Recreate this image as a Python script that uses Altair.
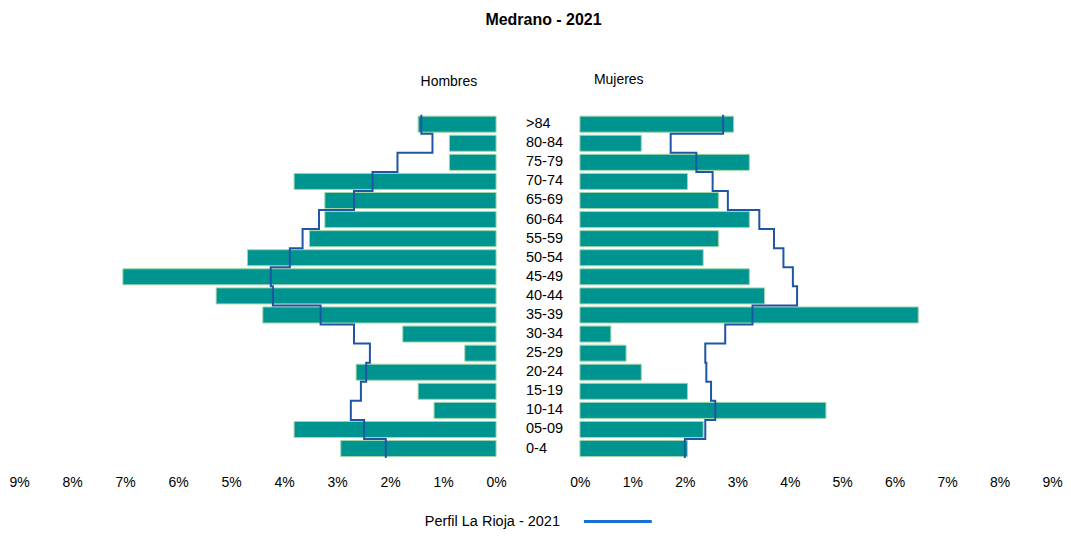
import altair as alt
import pandas as pd

ages = [">84", "80-84", "75-79", "70-74", "65-69", "60-64", "55-59", "50-54", "45-49",
        "40-44", "35-39", "30-34", "25-29", "20-24", "15-19", "10-14", "05-09", "0-4"]
hombres = [1.47, 0.88, 0.88, 3.81, 3.23, 3.23, 3.52, 4.69, 7.04,
           5.28, 4.40, 1.76, 0.59, 2.64, 1.47, 1.17, 3.81, 2.93]
mujeres = [2.93, 1.17, 3.23, 2.05, 2.64, 3.23, 2.64, 2.35, 3.23,
           3.52, 6.45, 0.59, 0.88, 1.17, 2.05, 4.69, 2.35, 2.05]
rioja_h = [1.41, 1.20, 1.86, 2.33, 2.68, 3.34, 3.65, 3.89, 4.25,
           4.21, 3.31, 2.68, 2.38, 2.45, 2.55, 2.74, 2.49, 2.08]
rioja_m = [2.73, 1.73, 2.22, 2.53, 2.82, 3.42, 3.70, 3.88, 4.06,
           4.14, 3.29, 2.77, 2.39, 2.41, 2.50, 2.58, 2.39, 2.00]
tick_values = [0, 1, 2, 3, 4, 5, 6, 7, 8, 9]
title_text = "Medrano - 2021"
legend_text = "Perfil La Rioja - 2021"

n = len(ages)
df = pd.DataFrame({"age": ages, "h": hombres, "m": mujeres})
df["idx"] = [n - 1 - i for i in range(n)]
df["lo"] = df["idx"] - 0.42
df["hi"] = df["idx"] + 0.42
df["z"] = 0.0

rows = []
for i in range(n):
    idx = n - 1 - i
    rows.append({"ord": 2 * i, "y": idx + 0.5, "rh": rioja_h[i], "rm": rioja_m[i]})
    rows.append({"ord": 2 * i + 1, "y": idx - 0.5, "rh": rioja_h[i], "rm": rioja_m[i]})
sdf = pd.DataFrame(rows)

FONT = "Liberation Sans"
TEAL = "#009490"
EDGE = "#9fd6a8"
LINE = "#1f55a5"
LEG = "#1a70d2"

W_L, W_M, W_R, H = 478, 84, 473, 411
yscale = alt.Scale(domain=[-1, 20.5], nice=False, zero=False)


def xaxis():
    return alt.Axis(values=tick_values, labelExpr="datum.value + '%'", ticks=False,
                    domain=False, grid=False, labelFlush=False, labelOverlap=False,
                    labelFontSize=14, labelPadding=8, labelColor="#000", labelFont=FONT,
                    title=None)


def panel(col, rcol, head, head_x, head_y, reverse, width):
    xs = alt.Scale(domain=[0, 9], reverse=reverse, nice=False, zero=False)
    bars = alt.Chart(df).mark_rect(color=TEAL, stroke=EDGE, strokeWidth=1).encode(
        x=alt.X(f"{col}:Q", scale=xs, axis=xaxis()),
        x2="z:Q",
        y=alt.Y("lo:Q", scale=yscale, axis=None),
        y2="hi:Q",
    )
    line = alt.Chart(sdf).mark_line(color=LINE, strokeWidth=2).encode(
        x=alt.X(f"{rcol}:Q", scale=xs),
        y=alt.Y("y:Q", scale=yscale),
        order="ord:Q",
    )
    hd = alt.Chart(pd.DataFrame({"t": [head], "x": [head_x], "y": [head_y]})).mark_text(
        fontSize=14, font=FONT, color="#000").encode(
        x=alt.X("x:Q", scale=xs), y=alt.Y("y:Q", scale=yscale), text="t:N")
    return alt.layer(bars, line, hd).properties(width=width, height=H)


left = panel("h", "rh", "Hombres", 0.89, 19.2, True, W_L)
right = panel("m", "rm", "Mujeres", 0.74, 19.3, False, W_R)

labels = alt.Chart(df).mark_text(align="left", baseline="middle", fontSize=14.5,
                                 font=FONT, color="#000").encode(
    x=alt.value(30), y=alt.Y("idx:Q", scale=yscale, axis=None), text="age:N")
leg_t = alt.Chart(pd.DataFrame({"t": [legend_text]})).mark_text(
    align="right", baseline="middle", fontSize=14.5, font=FONT, color="#000").encode(
    x=alt.value(64), y=alt.value(465), text="t:N")
leg_r = alt.Chart(pd.DataFrame({"t": [legend_text]})).mark_rule(
    color=LEG, strokeWidth=3).encode(
    x=alt.value(88), x2=alt.value(156), y=alt.value(465))
mid = alt.layer(labels, leg_t, leg_r).properties(width=W_M, height=H)

chart = alt.hconcat(left, mid, right, spacing=0, bounds="flush").properties(
    title=alt.Title(title_text, fontSize=16, fontWeight="bold", font=FONT,
                    color="#000", offset=29, anchor="middle", dx=8),
    padding={"left": 0, "top": 4, "right": 0, "bottom": 0},
).configure_view(stroke=None)

chart.save("out.html", embed_options={"renderer": "svg", "actions": False})
